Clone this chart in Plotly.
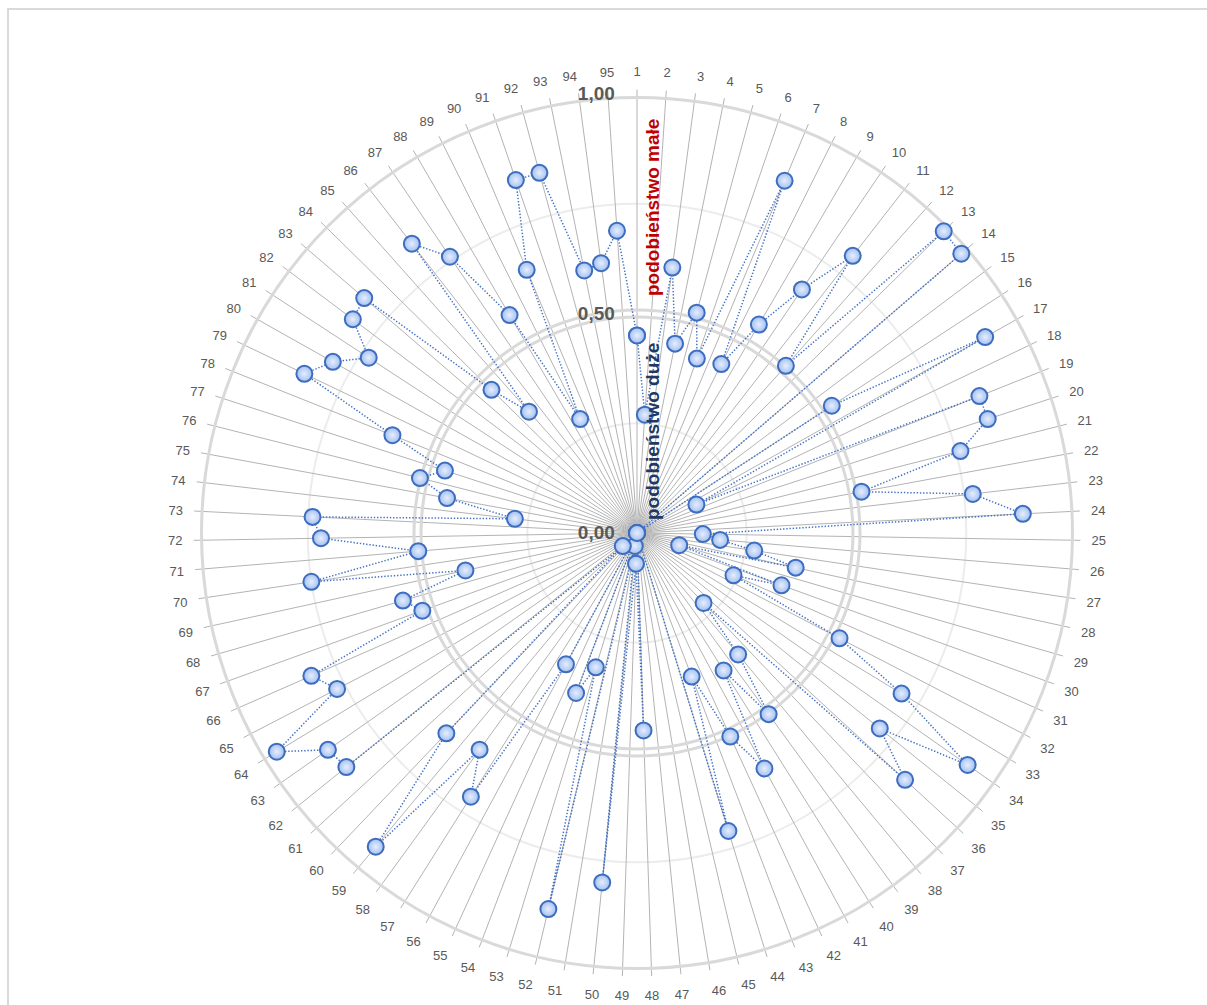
import plotly.graph_objects as go

categories = [str(i) for i in range(1, 96)]
values = [
    0.45, 0.27, 0.61, 0.44, 0.52, 0.42, 0.87, 0.43, 0.55, 0.67,
    0.80, 0.51, 0.98, 0.975, 0.00, 0.53, 0.91, 0.15, 0.84, 0.84,
    0.76, 0.52, 0.77, 0.88, 0.15, 0.19, 0.27, 0.37, 0.10, 0.35,
    0.24, 0.52, 0.705, 0.92, 0.71, 0.83, 0.22, 0.36, 0.51, 0.37,
    0.61, 0.51, 0.35, 0.71, 0.00, 0.00, 0.00, 0.45, 0.07, 0.80,
    0.03, 0.88, 0.32, 0.39, 0.00, 0.34, 0.71, 0.61, 0.93, 0.63,
    0.044, 0.85, 0.86, 0.96, 0.77, 0.81, 0.52, 0.555, 0.40, 0.75,
    0.50, 0.72, 0.74, 0.28, 0.44, 0.51, 0.46, 0.60, 0.84, 0.795,
    0.73, 0.81, 0.82, 0.465, 0.37, 0.835, 0.76, 0.575, 0.29, 0.65,
    0.85, 0.85, 0.61, 0.62, 0.69,
]
radial_tickvals = [0, 0.5, 1.0]
radial_ticktext = ["0,00", "0,50", "1,00"]
light_rings = [0.25, 0.75]
double_rings = [0.492, 0.508, 0.992, 1.008]

theta_closed = categories + [categories[0]]
r_closed = values + [values[0]]

W, H = 1207, 1005
CX, CY = 637, 533          # centre in page px
R1 = 439                   # px for value 1.0
RMAX = 1.01
ROUT = R1 * RMAX
dom_x = [(CX - ROUT) / W, (CX + ROUT) / W]
dom_y = [(H - CY - ROUT) / H, (H - CY + ROUT) / H]

fig = go.Figure()
for sp in ["polar", "polar3"]:
    fig.add_trace(go.Scatterpolar(r=values, theta=categories, mode="markers",
                                  marker=dict(opacity=0), hoverinfo="skip",
                                  showlegend=False, subplot=sp))
fig.add_trace(go.Scatterpolar(
    r=r_closed, theta=theta_closed, mode="lines+markers", subplot="polar2",
    line=dict(color="#4472C4", width=1.5, dash="1.4px,1.8px"),
    marker=dict(size=16, color="#a3c0f2", symbol="circle",
                gradient=dict(type="radial", color="#e6eefd"),
                line=dict(color="#3d6dbf", width=2)),
    showlegend=False,
))

common_ang = dict(type="category", rotation=90, direction="clockwise",
                  categoryarray=categories, categoryorder="array")

fig.update_layout(
    width=W, height=H,
    margin=dict(l=0, r=0, t=0, b=0),
    paper_bgcolor="white",
    showlegend=False,
    polar=dict(
        domain=dict(x=dom_x, y=dom_y), bgcolor="white",
        radialaxis=dict(range=[0, RMAX], tickvals=light_rings, showticklabels=False,
                        showline=False, ticks="", gridcolor="#ececec", gridwidth=1.5),
        angularaxis=dict(**common_ang, showgrid=False, showticklabels=False,
                         showline=False, ticks=""),
    ),
    polar2=dict(
        domain=dict(x=dom_x, y=dom_y), bgcolor="rgba(0,0,0,0)",
        radialaxis=dict(range=[0, RMAX], tickvals=double_rings, showticklabels=False,
                        showline=False, ticks="", gridcolor="#d9d9d9", gridwidth=3.2),
        angularaxis=dict(**common_ang, showgrid=True, gridcolor="#b3b3b3", gridwidth=1.4,
                         showline=False, ticks="outside", ticklen=8,
                         tickcolor="rgba(0,0,0,0)",
                         tickfont=dict(family="Liberation Sans, Arial, sans-serif",
                                       size=13, color="#595959")),
    ),
    polar3=dict(
        domain=dict(x=dom_x, y=dom_y), bgcolor="rgba(0,0,0,0)",
        radialaxis=dict(range=[0, RMAX], tickvals=radial_tickvals, ticktext=radial_ticktext,
                        angle=90, side="counterclockwise", tickangle=90,
                        showgrid=False, showline=False, ticks="outside", ticklen=15,
                        tickcolor="rgba(0,0,0,0)",
                        tickfont=dict(family="Liberation Sans, Arial, sans-serif",
                                      size=19, color="#595959", weight="bold")),
        angularaxis=dict(**common_ang, showgrid=False, showticklabels=False,
                         showline=False, ticks=""),
    ),
    shapes=[dict(type="rect", xref="paper", yref="paper",
                 x0=8 / W, x1=1.05, y0=-0.05, y1=1 - 9 / H,
                 line=dict(color="#d9d9d9", width=2), layer="above")],
    annotations=[
        dict(text="podobieństwo małe", x=652 / W, y=1 - 208 / H, xref="paper", yref="paper",
             xanchor="center", yanchor="middle",
             showarrow=False, textangle=-90,
             font=dict(family="Liberation Sans, Arial, sans-serif", size=19,
                       color="#C00000", weight="bold")),
        dict(text="podobieństwo duże", x=652 / W, y=1 - 432 / H, xref="paper", yref="paper",
             xanchor="center", yanchor="middle",
             showarrow=False, textangle=-90,
             font=dict(family="Liberation Sans, Arial, sans-serif", size=19,
                       color="#1F3864", weight="bold")),
    ],
)

fig.write_html(
    "out.html",
    config={"displayModeBar": False},
    post_script="document.body.style.margin='0';document.body.style.overflow='hidden';",
)
